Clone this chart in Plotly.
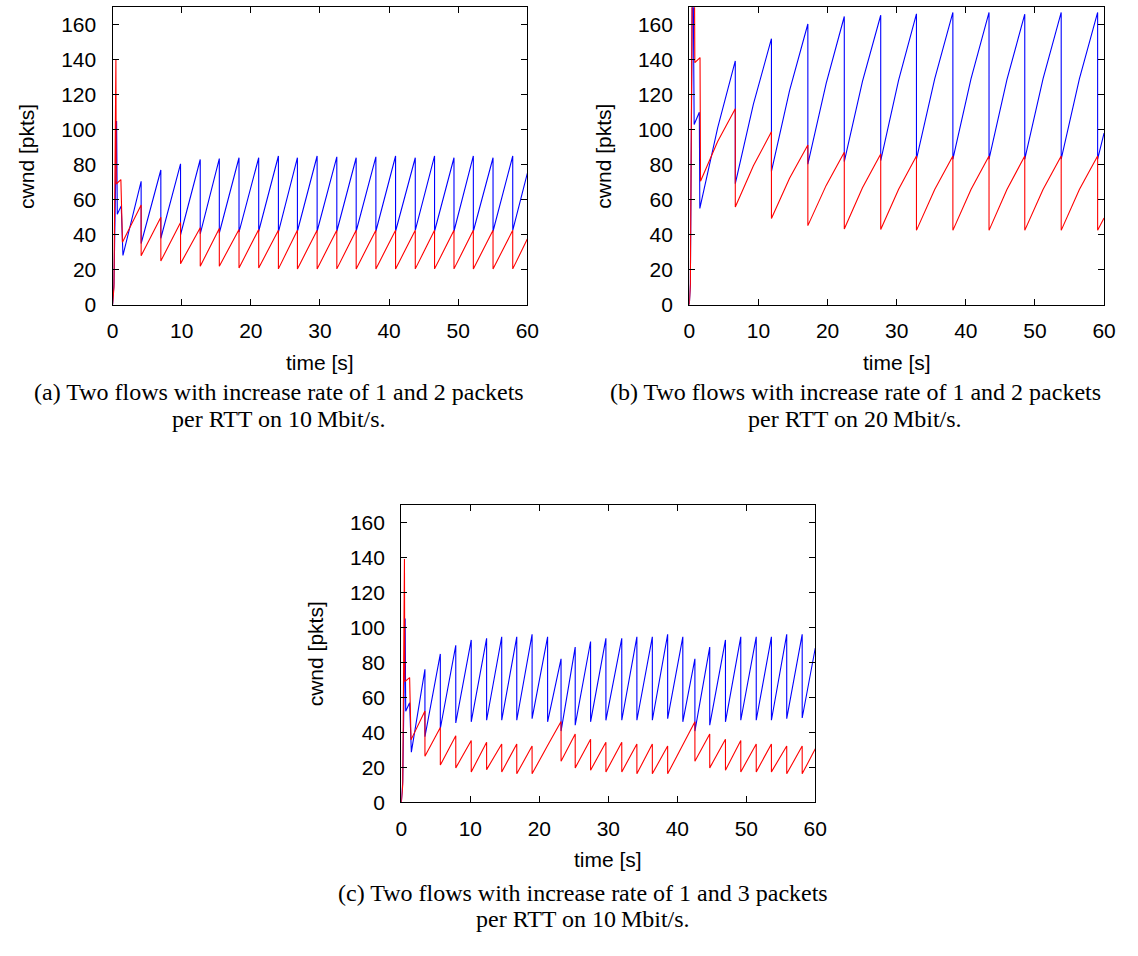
import plotly.graph_objects as go

W, H = 1138, 956

# ---------------- data ----------------
x_ticks = [0, 10, 20, 30, 40, 50, 60]
y_ticks = [0, 20, 40, 60, 80, 100, 120, 140, 160]
t_end = 60

# Panel (a): increase 1 and 2 pkts/RTT on 10 Mbit/s
a_drop_t = [4.13, 6.98, 9.83, 12.68, 15.44, 18.29, 21.14, 23.99, 26.74, 29.59,
            32.44, 35.24, 38.09, 40.94, 43.79, 46.58, 49.39, 52.19, 55.04, 57.89]
a_blue_start_t = [0, 0.2, 0.58, 0.62, 0.68, 1.25, 1.5]
a_blue_start_v = [0, 12, 105, 69, 51.7, 56.5, 28.2]
a_blue_peak = [70.5, 77, 80.5, 83, 83.5, 84, 84, 85, 84, 85,
               84.5, 84, 84.5, 85, 84, 85, 84, 85, 84, 85]
a_blue_trough = [35, 38, 40, 40.5, 41, 41.5, 42, 41.5, 42, 42,
                 42, 42, 42, 42, 42.5, 42, 42, 42, 42, 42.5]
a_blue_end = 75
a_red_start_t = [0, 0.2, 0.48, 0.53, 1.2, 1.43]
a_red_start_v = [0, 10, 140, 69, 71.5, 35.7]
a_red_peak = [57, 50, 47, 44, 43.5, 43, 43, 42.5, 42.5, 42.5,
              42.5, 42.5, 42.5, 42.5, 42.5, 42.5, 42.5, 42.5, 42.5, 42.5]
a_red_trough = [28, 25, 23.5, 22, 22, 21, 21, 20.5, 20.5, 20.5,
                20.5, 20.5, 20.5, 20.5, 20.5, 20.5, 20.5, 20.5, 20.5, 20.5]
a_red_end = 37.5

# Panel (b): increase 1 and 2 pkts/RTT on 20 Mbit/s
b_drop_t = [6.65, 11.88, 17.15, 22.42, 27.69, 32.86, 38.13, 43.36, 48.53, 53.8, 59.07]
b_mid_t = [4.1, 9.27, 14.5, 19.8, 25.05, 30.28, 35.5, 40.75, 45.95, 51.17, 56.43]
b_blue_start_t = [0, 0.15, 0.5, 0.7, 1.45, 1.52]
b_blue_start_v = [0, 12, 220, 103, 110, 55]
b_blue_mid = [101, 114.6, 122.3, 126.5, 127.6, 128.3, 129, 129, 128.6, 129, 129]
b_blue_peak = [139.3, 152, 160.4, 164.7, 165.4, 166.2, 167, 167, 166, 167, 167]
b_blue_trough = [69.2, 76.2, 80.3, 81.8, 82.4, 83.2, 83.2, 83.2, 83.2, 83.2, 83.2]
b_blue_end = 98
b_red_start_t = [0, 0.15, 0.6, 0.8, 1.55, 1.62]
b_red_start_v = [0, 12, 300, 138.3, 141.2, 70.6]
b_red_mid = [93.3, 79.4, 72.3, 68.2, 66.8, 66, 65.8, 65.8, 65.8, 65.8, 65.8]
b_red_peak = [112, 98.8, 91.3, 87.1, 86.2, 85, 85, 85, 85, 85, 85]
b_red_trough = [55.9, 49.3, 45.2, 43.3, 43, 42.5, 42.5, 42.5, 42.5, 42.5, 42.5]
b_red_end = 49.5

# Panel (c): increase 1 and 3 pkts/RTT on 10 Mbit/s
c_drop_t = [3.42, 5.65, 7.89, 10.13, 12.36, 14.55, 16.73, 18.95, 21.2, 23.15,
            25.2, 27.43, 29.65, 31.95, 34.14, 36.38, 38.6, 40.8, 42.55, 44.7,
            46.98, 49.2, 51.44, 53.64, 55.86, 58.1]
c_blue_start_t = [0, 0.2, 0.55, 0.58, 0.63, 1.2, 1.45]
c_blue_start_v = [0, 12, 105, 69, 52, 56.9, 28.7]
c_blue_peak = [76, 84.8, 89.7, 92.8, 93.7, 94.6, 94.6, 96, 94.6, 82,
               88.7, 91.9, 93.7, 93.7, 94.6, 94.6, 96, 94.6, 82, 88.7,
               92.8, 94.6, 94.6, 94.6, 96, 96]
c_blue_trough = [37.5, 42.2, 45.4, 46, 46.9, 46.9, 46.9, 47.8, 46, 40.7,
                 44.1, 46, 46.9, 46.9, 46.9, 46.9, 47.8, 46, 40.7, 44.1,
                 46, 46.9, 46.9, 46.9, 47.8, 48.2]
c_blue_end = 88.2
c_red_start_t = [0, 0.2, 0.45, 0.5, 1.2, 1.4]
c_red_start_v = [0, 10, 139, 69, 71.3, 35.7]
c_red_peak = [52.2, 42.8, 38.1, 35.3, 34.3, 33.4, 33.4, 32.2, 32.5, 46.2,
              39, 36.1, 34.3, 34.3, 33.4, 33.4, 32.2, 33, 46.1, 39,
              36.1, 35.3, 33.4, 33.4, 32.2, 32.2]
c_red_trough = [26.3, 21.3, 19.7, 17.4, 18.7, 17.4, 16.3, 16.3, 32.5, 23.5,
                19.7, 18.4, 17.4, 17.4, 16.3, 16.3, 16.3, 33, 23.5, 19.7,
                18.4, 17.4, 17.4, 17.4, 16.3, 16.3]
c_red_end = 30.6

captions = {
    "a": ["(a) Two flows with increase rate of 1 and 2 packets", "per RTT on 10\u2009Mbit/s."],
    "b": ["(b) Two flows with increase rate of 1 and 2 packets", "per RTT on 20\u2009Mbit/s."],
    "c": ["(c) Two flows with increase rate of 1 and 3 packets", "per RTT on 10\u2009Mbit/s."],
}


def build(start_t, start_v, drop_t, peak, trough, end_v, mid_t=None, mid_v=None):
    t, v = list(start_t), list(start_v)
    for i in range(len(drop_t)):
        if mid_t is not None:
            t.append(mid_t[i]); v.append(mid_v[i])
        t += [drop_t[i], drop_t[i]]
        v += [peak[i], trough[i]]
    t.append(t_end); v.append(end_v)
    return t, v


BLUE, RED = "#0000ff", "#ff0000"
fig = go.Figure()


def add(tv, color, k):
    fig.add_trace(go.Scatter(x=tv[0], y=tv[1], mode="lines",
                             line=dict(color=color, width=1.1),
                             xaxis="x" + k, yaxis="y" + k,
                             showlegend=False, hoverinfo="skip"))


add(build(a_blue_start_t, a_blue_start_v, a_drop_t, a_blue_peak, a_blue_trough, a_blue_end), BLUE, "")
add(build(a_red_start_t, a_red_start_v, a_drop_t, a_red_peak, a_red_trough, a_red_end), RED, "")
add(build(b_blue_start_t, b_blue_start_v, b_drop_t, b_blue_peak, b_blue_trough, b_blue_end,
          b_mid_t, b_blue_mid), BLUE, "2")
add(build(b_red_start_t, b_red_start_v, b_drop_t, b_red_peak, b_red_trough, b_red_end,
          b_mid_t, b_red_mid), RED, "2")
add(build(c_blue_start_t, c_blue_start_v, c_drop_t, c_blue_peak, c_blue_trough, c_blue_end), BLUE, "3")
add(build(c_red_start_t, c_red_start_v, c_drop_t, c_red_peak, c_red_trough, c_red_end), RED, "3")

# ---------------- layout ----------------
SANS = "Liberation Sans, Arial, sans-serif"
SERIF = "Liberation Serif, Times New Roman, serif"


def px(x):
    return x / W


def py(y):
    return 1 - y / H


def axis(domain, is_x):
    d = dict(domain=domain, showgrid=False, zeroline=False, showline=True,
             linecolor="black", linewidth=1.3, mirror="ticks",
             ticks="inside", ticklen=6, tickwidth=1, tickcolor="black",
             tickfont=dict(family=SANS, size=21, color="black"), fixedrange=True)
    if is_x:
        d.update(range=[0, t_end], tickvals=x_ticks, ticklabelstandoff=7)
    else:
        d.update(range=[0, 170], tickvals=y_ticks, ticklabelstandoff=11)
    return d


# plot-area boxes in pixels: (left, right, top, bottom)
boxes = {"": (108.3, 529.7, 7.3, 308.3),
         "2": (694.3, 1115.7, 7.3, 308.3),
         "3": (401.7, 822.3, 510.7, 811.7)}

layout = dict(width=W, height=H, margin=dict(l=0, r=0, t=0, b=0),
              paper_bgcolor="white", plot_bgcolor="white", showlegend=False)
annotations = []
for k, (l, r, t, b) in boxes.items():
    layout["xaxis" + k] = axis([px(l), px(r)], True)
    layout["yaxis" + k] = axis([py(b), py(t)], False)
    layout["xaxis" + k]["anchor"] = "y" + k
    layout["yaxis" + k]["anchor"] = "x" + k
    annotations.append(dict(text="time [s]", x=px((l + r) / 2), y=py(b + 58),
                            xref="paper", yref="paper", showarrow=False,
                            xanchor="center", yanchor="middle",
                            font=dict(family=SANS, size=21, color="black")))
    annotations.append(dict(text="cwnd [pkts]", x=px(l - 87), y=py((t + b) / 2),
                            xref="paper", yref="paper", showarrow=False, textangle=-90,
                            xanchor="center", yanchor="middle",
                            font=dict(family=SANS, size=21, color="black")))

CAP_SIZE = 24
CAP_LINE = 27
cap_pos = {"a": (277, 397), "b": (863, 397), "c": (586, 903)}
for key, (cx, y1) in cap_pos.items():
    for i, line in enumerate(captions[key]):
        annotations.append(dict(text=line, x=px(cx), y=py(y1 + i * CAP_LINE),
                                xref="paper", yref="paper",
                                showarrow=False, xanchor="center", yanchor="middle",
                                font=dict(family=SERIF, size=CAP_SIZE, color="black")))

layout["annotations"] = annotations
fig.update_layout(**layout)
fig.write_html("out.html")
